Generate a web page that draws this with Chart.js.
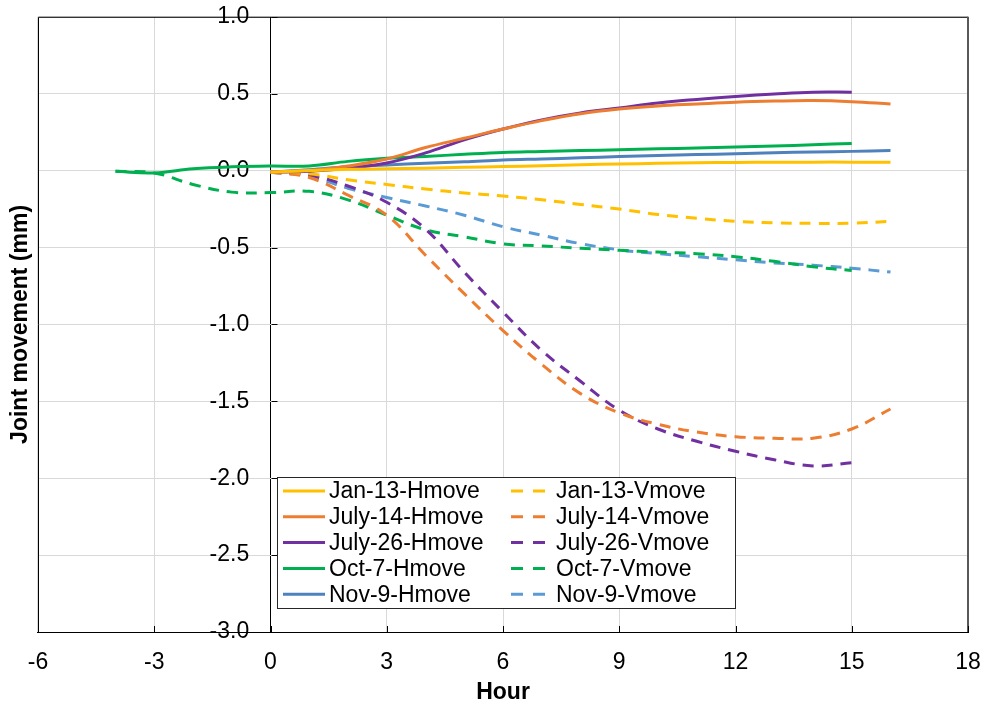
<!DOCTYPE html>
<html>
<head>
<meta charset="utf-8">
<title>Joint movement</title>
<script src="https://cdn.jsdelivr.net/npm/chart.js"></script>
<style>
  html, body { margin: 0; padding: 0; background: #fff; }
  .chart-box { width: 987px; height: 711px; }
</style>
</head>
<body>
<div class="chart-box"><canvas class="js-chart"></canvas></div>
<script>
// hours of each recording
const hours = [0, 1, 2, 3, 4, 5, 6, 7, 8, 9, 10, 11, 12, 13, 14, 15, 16];
const hoursTo15 = [0, 1, 2, 3, 4, 5, 6, 7, 8, 9, 10, 11, 12, 13, 14, 15];
const octHours = [-4, -3, -2, -1, 0, 1, 2, 3, 4, 5, 6, 7, 8, 9, 10, 11, 12, 13, 14, 15];

// joint movement (mm)
const jan13H = [-0.01, 0.0, 0.008, 0.012, 0.016, 0.021, 0.026, 0.032, 0.038, 0.043, 0.047, 0.051, 0.053, 0.054, 0.055, 0.055, 0.054];
const july14H = [-0.01, 0.0, 0.03, 0.075, 0.15, 0.21, 0.27, 0.325, 0.37, 0.4, 0.42, 0.433, 0.445, 0.452, 0.455, 0.448, 0.433];
const july26H = [-0.01, -0.005, 0.015, 0.05, 0.115, 0.2, 0.27, 0.33, 0.375, 0.407, 0.44, 0.463, 0.482, 0.498, 0.51, 0.51];
const oct7H = [-0.005, -0.015, 0.012, 0.025, 0.03, 0.03, 0.06, 0.08, 0.092, 0.106, 0.118, 0.124, 0.13, 0.136, 0.142, 0.147, 0.153, 0.16, 0.168, 0.177];
const nov9H = [-0.01, 0.005, 0.025, 0.037, 0.048, 0.057, 0.069, 0.076, 0.083, 0.091, 0.098, 0.104, 0.11, 0.116, 0.121, 0.125, 0.13];

const jan13V = [-0.01, -0.02, -0.06, -0.09, -0.12, -0.145, -0.165, -0.19, -0.22, -0.25, -0.285, -0.31, -0.33, -0.34, -0.343, -0.342, -0.33];
const july14V = [-0.01, -0.045, -0.16, -0.29, -0.55, -0.8, -1.04, -1.26, -1.45, -1.575, -1.65, -1.7, -1.73, -1.74, -1.74, -1.68, -1.55];
const july26V = [-0.01, -0.03, -0.1, -0.206, -0.38, -0.66, -0.92, -1.17, -1.37, -1.558, -1.68, -1.76, -1.825, -1.88, -1.92, -1.9];
const oct7V = [-0.005, -0.015, -0.09, -0.14, -0.143, -0.135, -0.19, -0.29, -0.385, -0.43, -0.476, -0.49, -0.505, -0.518, -0.53, -0.54, -0.56, -0.59, -0.625, -0.65];
const nov9V = [-0.01, -0.035, -0.115, -0.175, -0.23, -0.29, -0.365, -0.42, -0.475, -0.515, -0.54, -0.56, -0.58, -0.6, -0.615, -0.635, -0.66];

const FONT = "'Liberation Sans', Arial, sans-serif";
const DASH = [11, 8];

Chart.defaults.font.family = FONT;
Chart.defaults.font.size = 23;
Chart.defaults.color = "#000";

function toPoints(xs, ys) {
  return ys.map((y, i) => ({ x: xs[i], y }));
}

function line(label, xs, ys, color, dashed) {
  return {
    label,
    data: toPoints(xs, ys),
    borderColor: color,
    backgroundColor: color,
    borderWidth: 3,
    borderDash: dashed ? DASH : [],
    pointRadius: 0,
    tension: 0.4,
    fill: false,
  };
}

const datasets = [
  line("Jan-13-Hmove", hours, jan13H, "#FFC000", false),
  line("July-14-Hmove", hours, july14H, "#ED7D31", false),
  line("July-26-Hmove", hoursTo15, july26H, "#7030A0", false),
  line("Oct-7-Hmove", octHours, oct7H, "#00B050", false),
  line("Nov-9-Hmove", hours, nov9H, "#4F81BD", false),
  line("Jan-13-Vmove", hours, jan13V, "#FFC000", true),
  line("July-14-Vmove", hours, july14V, "#ED7D31", true),
  line("July-26-Vmove", hoursTo15, july26V, "#7030A0", true),
  line("Oct-7-Vmove", octHours, oct7V, "#00B050", true),
  line("Nov-9-Vmove", hours, nov9V, "#5B9BD5", true),
];

// plot frame plus the short tick marks on the x=0 axis and bottom axis
const frame = {
  id: "frame",
  beforeDatasetsDraw(chart) {
    const { ctx, chartArea: a, scales } = chart;
    ctx.save();
    ctx.lineWidth = 1;
    ctx.strokeStyle = "#000";
    ctx.beginPath();
    ctx.moveTo(a.right, a.top + 0.5);
    ctx.lineTo(a.left + 0.5, a.top + 0.5);
    ctx.lineTo(a.left + 0.5, a.bottom);
    ctx.stroke();
    ctx.strokeStyle = "#595959";
    ctx.lineWidth = 2;
    ctx.beginPath();
    ctx.moveTo(a.right, a.top);
    ctx.lineTo(a.right, a.bottom);
    ctx.stroke();

    ctx.strokeStyle = "#000";
    ctx.lineWidth = 1;
    const x0 = Math.round(scales.x.getPixelForValue(0)) + 0.5;
    ctx.beginPath();
    scales.y.ticks.forEach((t) => {
      const y = Math.round(scales.y.getPixelForValue(t.value)) + 0.5;
      ctx.moveTo(x0, y);
      ctx.lineTo(x0 + 6, y);
    });
    scales.x.ticks.forEach((t) => {
      const x = Math.round(scales.x.getPixelForValue(t.value)) + 0.5;
      ctx.moveTo(x, a.bottom);
      ctx.lineTo(x, a.bottom - 6);
    });
    ctx.stroke();
    ctx.restore();
  },
};

// two-column legend box inside the plot
const boxLegend = {
  id: "boxLegend",
  afterDraw(chart) {
    const { ctx } = chart;
    const box = { left: 277, top: 477, right: 735, bottom: 608 };
    const rowTop = 491;
    const rowGap = 25.8;
    const cols = [
      { sample: 283, sampleEnd: 325, text: 329 },
      { sample: 511, sampleEnd: 545, text: 556 },
    ];
    ctx.save();
    ctx.fillStyle = "#fff";
    ctx.fillRect(box.left, box.top, box.right - box.left, box.bottom - box.top);
    ctx.strokeStyle = "#262626";
    ctx.lineWidth = 1;
    ctx.strokeRect(box.left + 0.5, box.top + 0.5, box.right - box.left, box.bottom - box.top);
    ctx.font = "23px " + FONT;
    ctx.textBaseline = "middle";
    ctx.textAlign = "left";
    chart.data.datasets.forEach((ds, i) => {
      const col = cols[Math.floor(i / 5)];
      const y = rowTop + (i % 5) * rowGap;
      ctx.strokeStyle = ds.borderColor;
      ctx.lineWidth = 3;
      ctx.setLineDash(ds.borderDash.length ? [12, 10] : []);
      ctx.beginPath();
      ctx.moveTo(col.sample, y);
      ctx.lineTo(col.sampleEnd, y);
      ctx.stroke();
      ctx.setLineDash([]);
      ctx.fillStyle = "#000";
      ctx.fillText(ds.label, col.text, y + 1);
    });
    ctx.restore();
  },
};

new Chart(document.querySelector(".js-chart").getContext("2d"), {
  type: "line",
  data: { datasets },
  options: {
    responsive: true,
    maintainAspectRatio: false,
    animation: false,
    layout: { padding: { left: 2.4, right: 19, top: 16, bottom: 0 } },
    plugins: { legend: { display: false }, tooltip: { enabled: false } },
    scales: {
      x: {
        type: "linear",
        min: -6,
        max: 18,
        ticks: { stepSize: 3, padding: 3, maxRotation: 0 },
        grid: {
          color: (c) => (c.tick && c.tick.value === 0 ? "#000" : "#d9d9d9"),
          drawTicks: true,
          tickLength: 14.2,
          tickColor: "rgba(0,0,0,0)",
        },
        border: { display: true, color: "#000", width: 1 },
        title: {
          display: true,
          text: "Hour",
          font: { size: 23, weight: "bold" },
          padding: { top: -0.6, bottom: 4.2 },
        },
      },
      y: {
        min: -3,
        max: 1,
        position: { x: -0.55 },
        ticks: { stepSize: 0.5, callback: (v) => v.toFixed(1) },
        grid: { color: "#d9d9d9", drawTicks: false },
        border: { display: false },
      },
      yTitle: {
        position: "left",
        min: -3,
        max: 1,
        ticks: { display: false },
        grid: { display: false, drawTicks: false },
        border: { display: false },
        title: {
          display: true,
          text: "Joint movement (mm)",
          font: { size: 23, weight: "bold" },
          padding: { top: 4, bottom: 4 },
        },
      },
    },
  },
  plugins: [frame, boxLegend],
});
</script>
</body>
</html>
